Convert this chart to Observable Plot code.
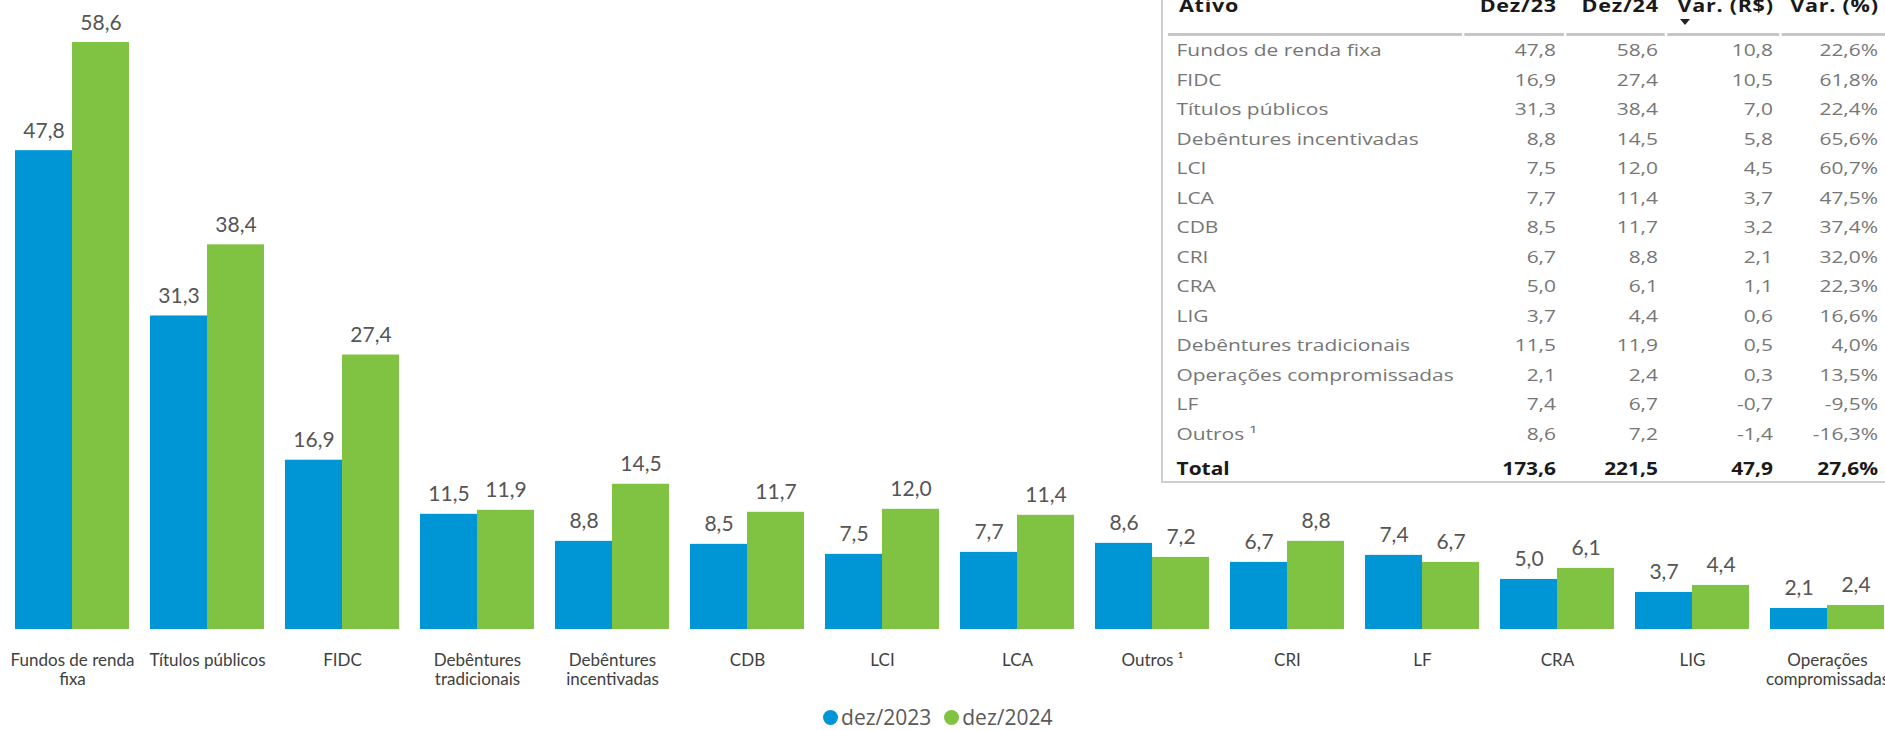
<!DOCTYPE html>
<html>
<head>
<meta charset="utf-8">
<script src="https://cdn.jsdelivr.net/npm/d3@7"></script>
<script src="https://cdn.jsdelivr.net/npm/@observablehq/plot@0.6"></script>
<style>
  html, body { margin: 0; padding: 0; background: #fff; overflow: hidden; }
  #wrap { position: relative; width: 1885px; height: 730px; }
  #legend { display: flex; justify-content: center; align-items: center; height: 26px; margin-top: 4px; padding-right: 10px;
    font-family: "Open Sans", sans-serif; font-size: 21px; color: #595959; line-height: 26px; }
  #legend .sw { width: 15px; height: 15px; border-radius: 50%; display: inline-block; margin-right: 3.5px; }
  #legend .item { display: flex; align-items: center; margin-right: 12.5px; }
  #tbl { position: absolute; left: 1161px; top: 0; width: 722px; height: 481px; background: #fff;
    border-left: 2px solid #cfcfcf; border-bottom: 2px solid #cfcfcf; overflow: hidden; }
  #tblInner { position: absolute; left: 0; top: 0; width: 587px; height: 481px; transform: scaleX(1.23); transform-origin: 0 0;
    font-family: "Open Sans", sans-serif; }
  .cell { position: absolute; white-space: nowrap; }
  .body { font-size: 17px; line-height: 29.5px; height: 29.5px; color: #767676; }
  .hdr { font-size: 17.5px; line-height: 20px; height: 20px; color: #1a1a1a; font-weight: 700; letter-spacing: 0.6px; }
  .tot { font-size: 17px; line-height: 29.5px; height: 29.5px; color: #1a1a1a; font-weight: 700; }
  .hline { position: absolute; top: 32.5px; height: 3px; background: #c6c6c6; }
  #tri { position: absolute; left: 517px; top: 19px; width: 0; height: 0; border-left: 5px solid transparent;
    border-right: 5px solid transparent; border-top: 6px solid #222; }
</style>
</head>
<body>
<div id="wrap">
  <div id="chart"></div>
  <div id="legend"></div>
  <div id="tbl"><div id="tblInner"></div><div id="tri"></div></div>
</div>
<script>
// ---- Chart data ----
const categories = ["Fundos de renda fixa", "Títulos públicos", "FIDC", "Debêntures tradicionais", "Debêntures incentivadas",
  "CDB", "LCI", "LCA", "Outros ¹", "CRI", "LF", "CRA", "LIG", "Operações compromissadas"];
const tickLabels = ["Fundos de renda\nfixa", "Títulos públicos", "FIDC", "Debêntures\ntradicionais", "Debêntures\nincentivadas",
  "CDB", "LCI", "LCA", "Outros ¹", "CRI", "LF", "CRA", "LIG", "Operações\ncompromissadas"];
const series = ["dez/2023", "dez/2024"];
const values2023 = [47.8, 31.3, 16.9, 11.5, 8.8, 8.5, 7.5, 7.7, 8.6, 6.7, 7.4, 5.0, 3.7, 2.1];
const values2024 = [58.6, 38.4, 27.4, 11.9, 14.5, 11.7, 12.0, 11.4, 7.2, 8.8, 6.7, 6.1, 4.4, 2.4];
const seriesColors = ["#0096d6", "#80c242"];

// ---- Table data ----
const tableHeaders = ["Ativo", "Dez/23", "Dez/24", "Var. (R$)", "Var. (%)"];
const tableAtivo = ["Fundos de renda fixa", "FIDC", "Títulos públicos", "Debêntures incentivadas", "LCI", "LCA", "CDB",
  "CRI", "CRA", "LIG", "Debêntures tradicionais", "Operações compromissadas", "LF", "Outros ¹"];
const tableDez23 = [47.8, 16.9, 31.3, 8.8, 7.5, 7.7, 8.5, 6.7, 5.0, 3.7, 11.5, 2.1, 7.4, 8.6];
const tableDez24 = [58.6, 27.4, 38.4, 14.5, 12.0, 11.4, 11.7, 8.8, 6.1, 4.4, 11.9, 2.4, 6.7, 7.2];
const tableVarRS = [10.8, 10.5, 7.0, 5.8, 4.5, 3.7, 3.2, 2.1, 1.1, 0.6, 0.5, 0.3, -0.7, -1.4];
const tableVarPct = [22.6, 61.8, 22.4, 65.6, 60.7, 47.5, 37.4, 32.0, 22.3, 16.6, 4.0, 13.5, -9.5, -16.3];
const totalRow = ["Total", 173.6, 221.5, 47.9, 27.6];

const fmt = v => d3.format(".1f")(v).replace(".", ",").replace("−", "-");

const data = [];
categories.forEach((c, i) => {
  data.push({cat: c, series: series[0], value: values2023[i]});
  data.push({cat: c, series: series[1], value: values2024[i]});
});

const chart = Plot.plot({
  width: 1885,
  height: 700,
  marginTop: 42,
  marginBottom: 71,
  marginLeft: 13,
  marginRight: 0,
  style: {fontFamily: "Lato, sans-serif", color: "#404040", background: "transparent"},
  fx: {domain: categories, paddingInner: 0.157, paddingOuter: 0, label: null},
  x: {domain: series, padding: 0, axis: null},
  y: {domain: [0, 58.6], axis: null},
  color: {domain: series, range: seriesColors},
  marks: [
    Plot.barY(data, {fx: "cat", x: "series", y: "value", fill: "series"}),
    Plot.text(data, {fx: "cat", x: "series", y: "value", text: d => fmt(d.value), lineAnchor: "bottom", dy: -13,
      fontSize: 21, fill: "#555555", fontFamily: "Lato, sans-serif"}),
    Plot.axisFx({anchor: "bottom", tickSize: 0, tickPadding: 23, label: null,
      tickFormat: d => tickLabels[categories.indexOf(d)], fontSize: 17, lineHeight: 1.12, fill: "#404040"})
  ]
});
document.getElementById("chart").appendChild(chart);

// Legend
const legend = document.getElementById("legend");
series.forEach((s, i) => {
  const item = document.createElement("div");
  item.className = "item";
  if (i === series.length - 1) item.style.marginRight = "0";
  const sw = document.createElement("span");
  sw.className = "sw";
  sw.style.background = seriesColors[i];
  const t = document.createElement("span");
  t.textContent = s;
  item.appendChild(sw); item.appendChild(t);
  legend.appendChild(item);
});

// Table (natural coordinates, stretched horizontally)
const inner = document.getElementById("tblInner");
const colLeftText = 11;
const colRights = [319.5, 402.4, 495.9, 581.3];
function cell(cls, text, top, opts) {
  const d = document.createElement("div");
  d.className = "cell " + cls;
  d.textContent = text;
  d.style.top = top + "px";
  if (opts.left != null) d.style.left = opts.left + "px";
  if (opts.right != null) { d.style.right = (587 - opts.right) + "px"; d.style.textAlign = "right"; }
  inner.appendChild(d);
  return d;
}
// header
const hdrTop = -4.8;
cell("hdr", tableHeaders[0], hdrTop, {left: 13});
tableHeaders.slice(1).forEach((h, j) => {
  cell("hdr", h, hdrTop, {right: colRights[j] + 0.6});
});
// header line segments
const segs = [[4, 243], [245, 326], [328, 408], [410, 501], [503, 587]];
segs.forEach(([a, b]) => {
  const l = document.createElement("div");
  l.className = "hline";
  l.style.left = a + "px";
  l.style.width = (b - a) + "px";
  inner.appendChild(l);
});
// body rows
const rowTop0 = 35.35, rowStep = 29.5;
tableAtivo.forEach((a, i) => {
  const top = rowTop0 + rowStep * i;
  cell("body", a, top, {left: colLeftText});
  cell("body", fmt(tableDez23[i]), top, {right: colRights[0]});
  cell("body", fmt(tableDez24[i]), top, {right: colRights[1]});
  cell("body", fmt(tableVarRS[i]), top, {right: colRights[2]});
  cell("body", fmt(tableVarPct[i]) + "%", top, {right: colRights[3]});
});
// total
const totTop = 453.6;
cell("tot", totalRow[0], totTop, {left: colLeftText});
cell("tot", fmt(totalRow[1]), totTop, {right: colRights[0]});
cell("tot", fmt(totalRow[2]), totTop, {right: colRights[1]});
cell("tot", fmt(totalRow[3]), totTop, {right: colRights[2]});
cell("tot", fmt(totalRow[4]) + "%", totTop, {right: colRights[3]});
</script>
</body>
</html>
